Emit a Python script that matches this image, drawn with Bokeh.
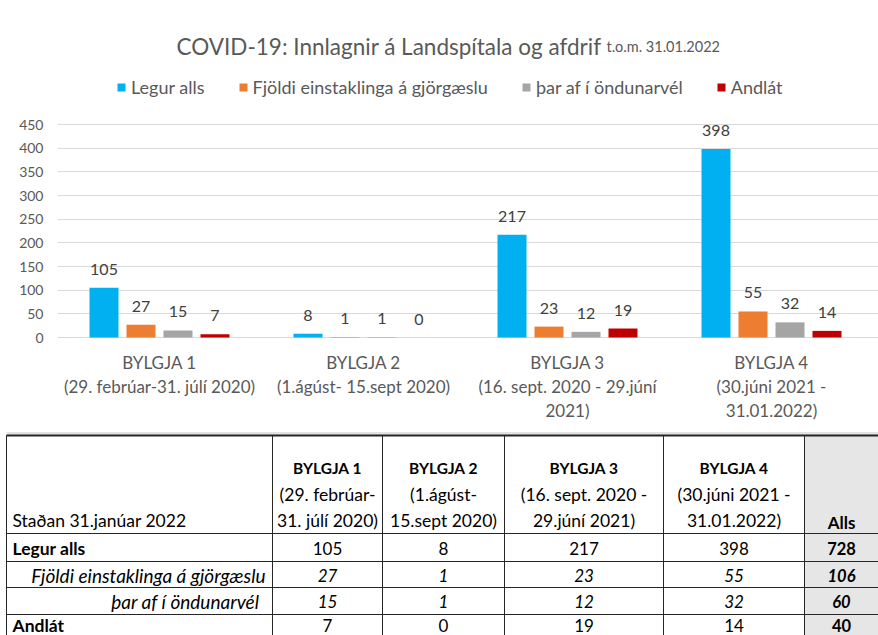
from bokeh.plotting import figure
from bokeh.models import Range1d, FixedTicker, Legend, LegendItem, ColumnDataSource
from bokeh.embed import file_html
from bokeh.resources import INLINE
from bokeh.core.properties import value

# ------------------------------------------------------------------ data
title_main = "COVID-19: Innlagnir á Landspítala og afdrif"
title_sub = "t.o.m. 31.01.2022"

waves = ["BYLGJA 1", "BYLGJA 2", "BYLGJA 3", "BYLGJA 4"]
wave_chart_sub = [
    ["(29. febrúar-31. júlí 2020)"],
    ["(1.ágúst- 15.sept 2020)"],
    ["(16. sept. 2020 - 29.júní", "2021)"],
    ["(30.júni 2021 -", "31.01.2022)"],
]
wave_table_sub = [
    ["(29. febrúar-", "31. júlí 2020)"],
    ["(1.ágúst-", "15.sept 2020)"],
    ["(16. sept. 2020 -", "29.júní 2021)"],
    ["(30.júni 2021 -", "31.01.2022)"],
]

series_names = ["Legur alls", "Fjöldi einstaklinga á gjörgæslu",
                "þar af í öndunarvél", "Andlát"]
legur_alls = [105, 8, 217, 398]
gjorgaesla = [27, 1, 23, 55]
ondunarvel = [15, 1, 12, 32]
andlat = [7, 0, 19, 14]
alls_total = [728, 106, 60, 40]

y_ticks = [0, 50, 100, 150, 200, 250, 300, 350, 400, 450]

table_corner = "Staðan 31.janúar 2022"
table_total_head = "Alls"

# ------------------------------------------------------------------ styles / layout
FONT = "Lato"
colors = ["#00B0F0", "#ED7D31", "#A5A5A5", "#C00000"]
TXT = "#595959"
LBL = "#404040"

W = 878
CH_H = 424
TB_H = 635 - CH_H
FRAME_L = 57          # frame starts at screen x = 57
CAT_PX = 204.0        # pixels per category
Y0 = 337.0            # screen px of value 0
YMAX_PX = 124.0       # screen px of value 450
YMAX = 450.0
ppu = (Y0 - YMAX_PX) / YMAX


def sx(px):
    return (px - FRAME_L) / CAT_PX


def sy(py):
    return (Y0 - py) / ppu


p = figure(width=W, height=CH_H, output_backend="svg", toolbar_location=None,
           x_range=Range1d(0, (W - FRAME_L) / CAT_PX),
           y_range=Range1d(-(CH_H - Y0) / ppu, Y0 / ppu),
           x_axis_location=None, min_border_left=FRAME_L, min_border_right=0,
           min_border_top=0, min_border_bottom=0)
p.outline_line_color = None
p.xgrid.visible = False
p.ygrid.grid_line_color = "#D9D9D9"
p.ygrid.grid_line_width = 1
ax = p.yaxis[0]
ax.ticker = FixedTicker(ticks=y_ticks)
ax.axis_line_color = None
ax.major_tick_line_color = None
ax.minor_tick_line_color = None
ax.major_tick_out = 0
ax.major_tick_in = 0
ax.major_label_standoff = 14
ax.major_label_text_font = FONT
ax.major_label_text_font_size = "14px"
ax.major_label_text_color = TXT

SLOT = 37 / CAT_PX
BAR_W = 29 / CAT_PX
LABEL_PAD = 18.5 / ppu

all_series = [legur_alls, gjorgaesla, ondunarvel, andlat]
items = []
for j, (name, vals, col) in enumerate(zip(series_names, all_series, colors)):
    off = (j - 1.5) * SLOT
    src = ColumnDataSource(dict(
        x=[i + 0.5 + off for i in range(len(waves))],
        top=vals,
        ly=[v + LABEL_PAD for v in vals],
        txt=[str(v) for v in vals],
    ))
    r = p.vbar(x="x", top="top", bottom=0, width=BAR_W, source=src,
               fill_color=col, line_color=None)
    p.text(x="x", y="ly", text="txt", source=src, text_font=value(FONT),
           text_font_size="16px", text_color=LBL, text_align="center",
           text_baseline="middle")
    items.append(LegendItem(label=name, renderers=[r]))

legend = Legend(items=items, orientation="horizontal", location=(59, 326),
                glyph_width=10, glyph_height=10, label_height=22,
                label_text_font=FONT, label_text_font_size="18px",
                label_text_color=TXT, spacing=33, label_standoff=5,
                padding=0, margin=0, border_line_color=None,
                background_fill_alpha=0)
p.add_layout(legend)

# title
p.text(x=[sx(601)], y=[sy(45.5)], text=[title_main], text_font=value(FONT),
       text_font_size="22.5px", text_color=TXT, text_align="right",
       text_baseline="alphabetic")
p.text(x=[sx(606)], y=[sy(45.5)], text=[title_sub], text_font=value(FONT),
       text_font_size="14.5px", text_color=TXT, text_align="left",
       text_baseline="alphabetic")

# category labels
cx, cy, ct = [], [], []
for i, (w, subs) in enumerate(zip(waves, wave_chart_sub)):
    for k, line in enumerate([w] + subs):
        cx.append(i + 0.5)
        cy.append(sy(362 + 24 * k))
        ct.append(line)
p.text(x=cx, y=cy, text=ct, text_font=value(FONT), text_font_size="17px",
       text_color=TXT, text_align="center", text_baseline="middle")

# ------------------------------------------------------------------ table
t = figure(width=W, height=TB_H, output_backend="svg", toolbar_location=None,
           x_range=Range1d(0, W), y_range=Range1d(CH_H + TB_H, CH_H),
           x_axis_location=None, y_axis_location=None,
           min_border_left=0, min_border_right=0, min_border_top=0,
           min_border_bottom=0)
t.outline_line_color = None
t.grid.visible = False

col_edges = [6, 272, 382, 504, 663, 804, 878]
row_edges = [435, 533, 561, 587, 614, 641]
col_c = [(a + b) / 2 for a, b in zip(col_edges[1:-1], col_edges[2:])]
row_c = [(a + b) / 2 + 0.5 for a, b in zip(row_edges[:-1], row_edges[1:])][1:]
row_c[-1] = row_c[-1] - 3   # keep the last (page-cut) row readable

# band above table and total column background
t.quad(left=[6], right=[878], top=[431.5], bottom=[434.5], fill_color="#E3E3E3",
       line_color=None)
t.quad(left=[col_edges[-2]], right=[col_edges[-1]], top=[row_edges[0]],
       bottom=[row_edges[-1]], fill_color="#E7E6E6", line_color=None)

# grid lines
n_r = len(row_edges)
n_c = len(col_edges)
t.segment(x0=[col_edges[0]] * n_r, x1=[col_edges[-1]] * n_r, y0=row_edges,
          y1=row_edges, line_color="#262626", line_width=1)
t.segment(x0=[col_edges[0]], x1=[col_edges[-1]], y0=[row_edges[0]],
          y1=[row_edges[0]], line_color="#262626", line_width=2)
t.segment(x0=col_edges[:-1], x1=col_edges[:-1], y0=[row_edges[0]] * (n_c - 1),
          y1=[row_edges[-1]] * (n_c - 1), line_color="#262626", line_width=1)

# header
t.text(x=col_c[:4], y=[467] * 4, text=waves, text_font=value(FONT),
       text_font_size="15.5px", text_font_style="bold", text_color="black",
       text_align="center", text_baseline="middle")
hx, hy, ht = [], [], []
for i, subs in enumerate(wave_table_sub):
    for k, line in enumerate(subs):
        hx.append(col_c[i])
        hy.append(494 + 26 * k)
        ht.append(line)
t.text(x=hx, y=hy, text=ht, text_font=value(FONT), text_font_size="17.5px",
       text_color="black", text_align="center", text_baseline="middle")
t.text(x=[12], y=[520], text=[table_corner], text_font=value(FONT),
       text_font_size="17.5px", text_color="black", text_align="left",
       text_baseline="middle")
t.text(x=[col_c[4]], y=[522], text=[table_total_head], text_font=value(FONT),
       text_font_size="17px", text_font_style="bold", text_color="black",
       text_align="center", text_baseline="middle")

# row labels
t.text(x=[12, 12], y=[row_c[0], row_c[3]], text=[series_names[0], series_names[3]],
       text_font=value(FONT), text_font_size="17.5px", text_font_style="bold",
       text_color="black", text_align="left", text_baseline="middle")
t.text(x=[265, 259], y=[row_c[1], row_c[2]], text=[series_names[1], series_names[2]],
       text_font=value(FONT), text_font_size="19px", text_font_style="italic",
       text_color="black", text_align="right", text_baseline="middle")

# values
for r_i, vals in enumerate(all_series):
    style = "italic" if r_i in (1, 2) else "normal"
    tstyle = "bold italic" if r_i in (1, 2) else "bold"
    t.text(x=col_c[:4], y=[row_c[r_i]] * 4, text=[str(v) for v in vals],
           text_font=value(FONT), text_font_size="17px", text_font_style=style,
           text_color="black", text_align="center", text_baseline="middle")
    t.text(x=[col_c[4]], y=[row_c[r_i]], text=[str(alls_total[r_i])],
           text_font=value(FONT), text_font_size="16.5px", text_font_style=tstyle,
           text_color="black", text_align="center", text_baseline="middle")

open("out.html", "w").write(file_html([p, t], INLINE))
